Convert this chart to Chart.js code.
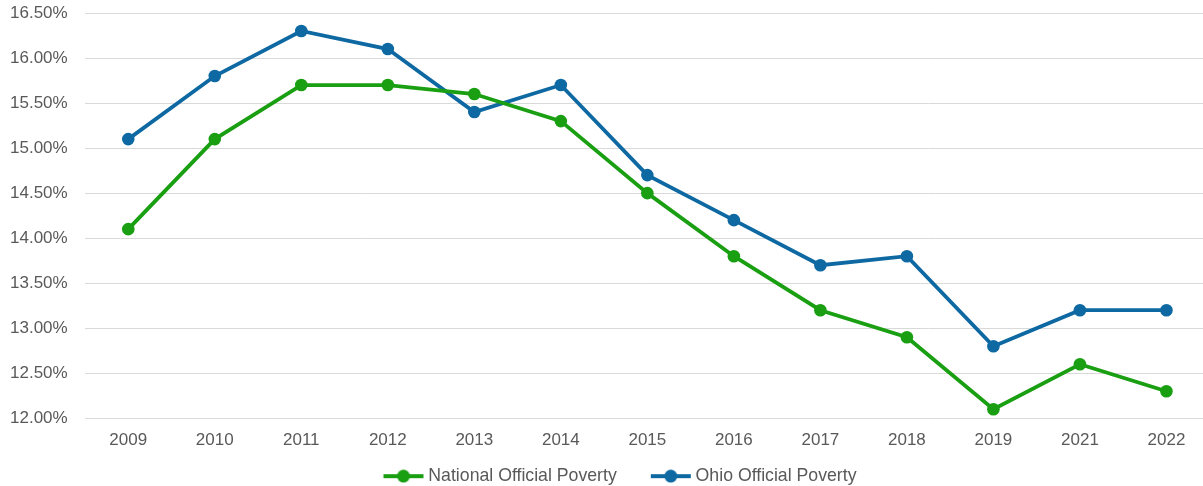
<!DOCTYPE html>
<html>
<head>
<meta charset="utf-8">
<script src="https://cdn.jsdelivr.net/npm/chart.js@4/dist/chart.umd.min.js"></script>
<style>
    html, body { margin: 0; padding: 0; background: #ffffff; overflow: hidden; }
    #wrap { width: 1216px; height: 486px; position: relative; }
</style>
</head>
<body>
<div id="wrap"><canvas id="povertyChart"></canvas></div>
<script>
const years = ['2009', '2010', '2011', '2012', '2013', '2014', '2015', '2016', '2017', '2018', '2019', '2021', '2022'];
const nationalPoverty = [14.1, 15.1, 15.7, 15.7, 15.6, 15.3, 14.5, 13.8, 13.2, 12.9, 12.1, 12.6, 12.3];
const ohioPoverty = [15.1, 15.8, 16.3, 16.1, 15.4, 15.7, 14.7, 14.2, 13.7, 13.8, 12.8, 13.2, 13.2];
const seriesNames = ['National Official Poverty', 'Ohio Official Poverty'];
const yMin = 12, yMax = 16.5, yStep = 0.5;

const GREEN = '#1a9f12';
const BLUE = '#0e69a3';
const TEXT = '#595959';
const FONT = "'Liberation Sans', Arial, sans-serif";

// legend marker: line with a dot, drawn a bit wider than its box so it sits close to the text
function legendMarker(color) {
    const c = document.createElement('canvas');
    c.width = 60;
    c.height = 14;
    const ctx = c.getContext('2d');
    ctx.strokeStyle = color;
    ctx.lineWidth = 4;
    ctx.beginPath();
    ctx.moveTo(19, 7);
    ctx.lineTo(59, 7);
    ctx.stroke();
    ctx.fillStyle = color;
    ctx.beginPath();
    ctx.arc(39, 7, 6.5, 0, Math.PI * 2);
    ctx.fill();
    return c;
}
const markers = [legendMarker(GREEN), legendMarker(BLUE)];

new Chart(document.getElementById('povertyChart'), {
    type: 'line',
    data: {
        labels: years,
        datasets: [
            {
                label: seriesNames[0],
                data: nationalPoverty,
                borderColor: GREEN,
                backgroundColor: GREEN,
                borderWidth: 3.8,
                pointRadius: 6.3,
                pointBorderWidth: 0,
                pointBackgroundColor: GREEN,
                tension: 0
            },
            {
                label: seriesNames[1],
                data: ohioPoverty,
                borderColor: BLUE,
                backgroundColor: BLUE,
                borderWidth: 3.8,
                pointRadius: 6.3,
                pointBorderWidth: 0,
                pointBackgroundColor: BLUE,
                tension: 0
            }
        ]
    },
    options: {
        responsive: true,
        maintainAspectRatio: false,
        animation: false,
        layout: {
            padding: { left: 10, right: 0, top: 13, bottom: -9 }
        },
        plugins: {
            tooltip: { enabled: false },
            legend: {
                position: 'bottom',
                labels: {
                    usePointStyle: true,
                    pointStyleWidth: 50,
                    padding: 20,
                    color: TEXT,
                    font: { family: FONT, size: 17.7 },
                    generateLabels: function (chart) {
                        return chart.data.datasets.map((ds, i) => ({
                            text: ds.label,
                            fillStyle: ds.borderColor,
                            strokeStyle: ds.borderColor,
                            lineWidth: 0,
                            pointStyle: markers[i],
                            fontColor: TEXT,
                            hidden: false,
                            datasetIndex: i
                        }));
                    }
                }
            }
        },
        scales: {
            x: {
                offset: true,
                grid: { display: false, drawTicks: false },
                border: { display: false },
                ticks: {
                    color: TEXT,
                    padding: 12,
                    font: { family: FONT, size: 17 }
                },
                afterFit: function (scale) { scale.height = 29; }
            },
            y: {
                min: yMin,
                max: yMax,
                grid: { color: '#d9d9d9', lineWidth: 1, drawTicks: false },
                border: { display: false },
                ticks: {
                    stepSize: yStep,
                    color: TEXT,
                    padding: 0,
                    crossAlign: 'far',
                    font: { family: FONT, size: 17 },
                    callback: v => v.toFixed(2) + '%'
                },
                afterFit: function (scale) { scale.width = 75; }
            }
        }
    }
});
</script>
</body>
</html>
